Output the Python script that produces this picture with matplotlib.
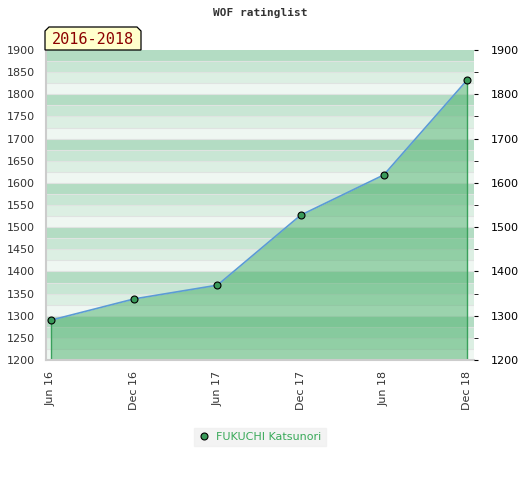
import matplotlib
matplotlib.use("Agg")
import matplotlib.pyplot as plt
from matplotlib.patches import Polygon
from matplotlib.lines import Line2D

title = "WOF ratinglist"
period = "2016-2018"
player = "FUKUCHI Katsunori"
months = [0, 6, 12, 18, 24, 30]
tick_labels = ["Jun 16", "Dec 16", "Jun 17", "Dec 17", "Jun 18", "Dec 18"]
ratings = [1290, 1338, 1369, 1527, 1618, 1832]

W, H = 520, 480
fig = plt.figure(figsize=(W / 100, H / 100), dpi=100)
L, R, T, B = 46, 474, 50, 360
ax = fig.add_axes([L / W, 1 - B / H, (R - L) / W, (B - T) / H])

ymin, ymax = 1200, 1900
stripe_cols = ["#b3dcc3", "#c8e6d4", "#dcefe3", "#eff7f2"]
for base in range(ymin, ymax, 100):
    for i in range(4):
        top = base + 100 - 25 * i
        ax.axhspan(top - 25, top, color=stripe_cols[i], lw=0, zorder=0)
for v in range(ymin + 25, ymax, 25):
    ax.axhline(v, color="#dfe3e1", lw=0.8, zorder=0.5)

ax.fill_between(months, ratings, ymin, color=(65/255, 172/255, 99/255), alpha=0.48,
                lw=0, zorder=1)
ax.vlines([months[0], months[-1]], ymin, [ratings[0], ratings[-1]], color="#3aa05c",
          lw=1, zorder=2)
ax.plot(months, ratings, color="#5b9bd5", lw=1.2, zorder=3)
ax.plot(months, ratings, ls="none", marker="o", ms=5, mfc="#3a9a5a", mec="black",
        mew=0.8, zorder=4)

ax.set_xlim(-0.36, 30.5)
ax.set_ylim(ymin, ymax)
ax.set_xticks(months)
ax.set_xticklabels(tick_labels, rotation=90, fontsize=8, color="#333333")
ax.tick_params(axis="x", length=0, pad=8)
ax.set_yticks(range(ymin, ymax + 1, 50))
ax.tick_params(axis="y", length=0, labelsize=8, labelcolor="#333333", pad=8)

for s in ["top", "right"]:
    ax.spines[s].set_visible(False)
ax.spines["left"].set_color("#cccccc")
ax.spines["bottom"].set_color("#cccccc")
ax.spines["left"].set_linewidth(1.5)
ax.spines["bottom"].set_linewidth(1.5)

ax2 = ax.twinx()
ax2.set_ylim(ymin, ymax)
ax2.set_yticks(range(ymin, ymax + 1, 100))
ax2.set_yticks(range(ymin + 50, ymax, 100), minor=True)
ax2.tick_params(axis="y", which="major", length=3, labelsize=8, labelcolor="black",
                pad=9, color="black")
ax2.tick_params(axis="y", which="minor", length=3, color="black")
for s in ax2.spines.values():
    s.set_visible(False)

fig.text(0.5, 1 - 13 / H, title, ha="center", va="center", fontsize=8,
         family="DejaVu Sans Mono", weight="bold", color="#333333")

# period label box with chamfered top corners
x0, x1, y0, y1, c = 45, 141, 27, 50, 4
pts = [(x0, y1), (x0, y0 + c), (x0 + c, y0), (x1 - c, y0), (x1, y0 + c), (x1, y1)]
pts = [(x / W, 1 - y / H) for x, y in pts]
fig.patches.append(Polygon(pts, closed=True, transform=fig.transFigure,
                           facecolor="#ffffcc", edgecolor="black", lw=0.9, zorder=5))
fig.text((x0 + x1) / 2 / W, 1 - 40 / H, period, ha="center", va="center",
         fontsize=11, family="DejaVu Sans Mono", color="#8b0000", zorder=6)

handle = Line2D([], [], ls="none", marker="o", ms=5, mfc="#3a9a5a", mec="black", mew=0.8)
leg = fig.legend([handle], [player], loc="center", bbox_to_anchor=(260 / W, 1 - 437 / H),
                 frameon=True, fontsize=8, handlelength=1, handletextpad=0.6,
                 borderpad=0.4, fancybox=False)
leg.get_frame().set_facecolor("#f0f0f0")
leg.get_frame().set_edgecolor("#f0f0f0")
for t in leg.get_texts():
    t.set_color("#3aaa5a")

fig.savefig("out.png", dpi=100)
